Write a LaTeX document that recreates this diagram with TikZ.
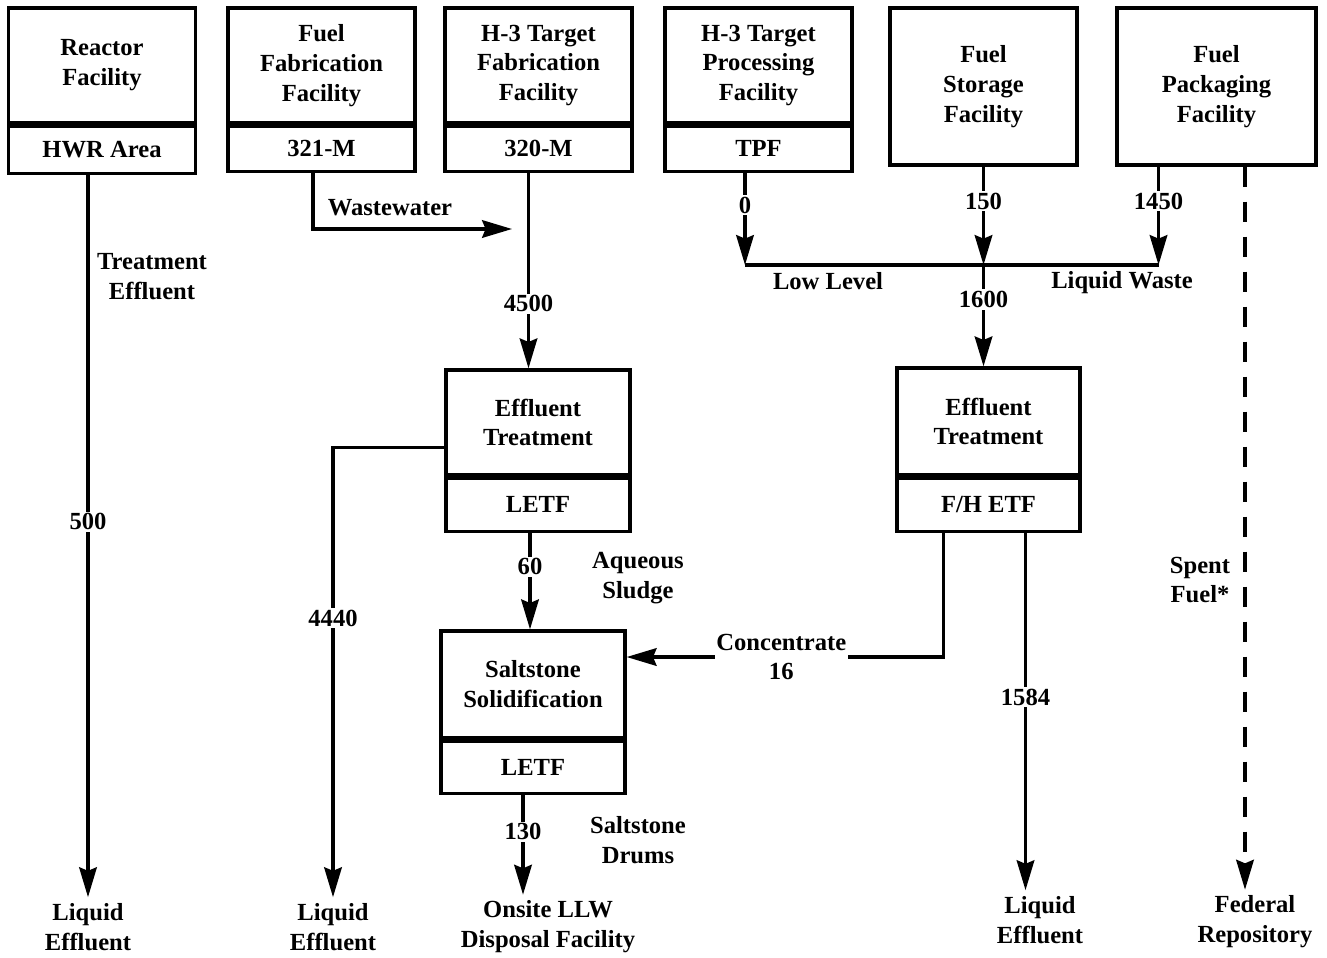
\documentclass[tikz,border=0pt]{standalone}
\usepackage{fontspec}
\setmainfont{Liberation Serif}
\usetikzlibrary{arrows.meta}

\tikzset{
  box/.style={draw, line width=1.9pt, minimum width=3.74cm, minimum height=2.3cm, align=center, inner sep=0pt},
  tag/.style={draw, line width=1.9pt, minimum width=3.74cm, minimum height=0.9cm, inner sep=0pt},
  pipe/.style={line width=1.9pt},
  flow/.style={line width=1.9pt, -{Stealth[length=17pt,width=10pt,inset=2pt]}},
  num/.style={fill=white, inner sep=1pt, align=center},
  lbl/.style={align=center}
}

\begin{document}
\begin{tikzpicture}[x=0.02cm, y=-0.02cm, font=\fontsize{14}{17}\selectfont\bfseries]
\useasboundingbox (0,0) rectangle (1327,957);
    % source facilities
    \node [box] (reactor) at (102,65.5) {Reactor\\Facility};
    \node [tag, minimum height=0.94cm, anchor=north] (hwr) at (reactor.south) {HWR Area};
    \node [box] (fuelfab) at (321.5,65.5) {Fuel\\Fabrication\\Facility};
    \node [tag, anchor=north] (m321) at (fuelfab.south) {321-M};
    \node [box] (targetfab) at (538.5,65.5) {H-3 Target\\Fabrication\\Facility};
    \node [tag, anchor=north] (m320) at (targetfab.south) {320-M};
    \node [box] (targetproc) at (758.5,65.5) {H-3 Target\\Processing\\Facility};
    \node [tag, anchor=north] (tpf) at (targetproc.south) {TPF};
    \node [box, minimum height=3.14cm] (storage) at (983.5,86.5) {Fuel\\Storage\\Facility};
    \node [box, minimum height=3.14cm, minimum width=3.98cm] (packaging) at (1216.5,86.5) {Fuel\\Packaging\\Facility};
    % treatment
    \node [box, minimum width=3.68cm, minimum height=2.1cm] (letf) at (538,422.5) {Effluent\\Treatment};
    \node [tag, minimum width=3.68cm, minimum height=1.06cm, anchor=north] (letftag) at (letf.south) {LETF};
    \node [box, minimum width=3.66cm, minimum height=2.14cm] (fhetf) at (988.5,421.5) {Effluent\\Treatment};
    \node [tag, minimum width=3.66cm, minimum height=1.06cm, anchor=north] (fhetftag) at (fhetf.south) {F/H ETF};
    \node [box, minimum width=3.68cm, minimum height=2.14cm] (saltstone) at (533,684.5) {Saltstone\\Solidification};
    \node [tag, minimum width=3.68cm, minimum height=1.04cm, anchor=north] (salttag) at (saltstone.south) {LETF};
    % destinations
    \node [lbl] (liquid1) at (88,927) {Liquid\\Effluent};
    \node [lbl] (liquid2) at (333,927) {Liquid\\Effluent};
    \node [lbl] (llw) at (548,927) {Onsite LLW\\Disposal Facility};
    \node [lbl] (liquid3) at (1040,920) {Liquid\\Effluent};
    \node [lbl] (repository) at (1255,922) {Federal\\Repository};
    \coordinate (wwend) at (512,229);
    \coordinate (lowlevel) at (983.5,265);
    % flows
    \draw [flow] (hwr.south -| liquid1.north) to node [num, pos=.48] {500} (liquid1.north);
    \node [lbl] (treat) at (152,277) {Treatment\\Effluent};
    \draw [flow] ([xshift=-0.17cm]m321.south) |- (wwend);
    \node [lbl] (ww) at (390,208) {Wastewater};
    \draw [flow] ([xshift=-0.2cm]m320.south) to node [num, pos=.67] {4500} ([xshift=-0.2cm]m320.south |- letf.north);
    \draw [flow] ([xshift=-0.27cm]tpf.south) to node [num, pos=.35] {0} ([xshift=-0.27cm]tpf.south |- lowlevel);
    \draw [flow] (storage.south) to node [num, pos=.35] {150} (lowlevel);
    \draw [flow] ([xshift=-1.16cm]packaging.south) to node [num, pos=.35] {1450} ([xshift=-1.16cm]packaging.south |- lowlevel);
    \draw [pipe] ([xshift=-0.27cm]tpf.south |- lowlevel) to ([xshift=-1.16cm]packaging.south |- lowlevel);
    \node [lbl] (ll) at (828,281) {Low Level};
    \node [lbl] (lw) at (1122,283) {Liquid Waste};
    \draw [flow] (lowlevel) to node [num, pos=.34] {1600} (lowlevel |- fhetf.north);
    \draw [flow] ([yshift=-0.5cm]letf.west) -| node [num, pos=.69] {4440} (liquid2.north);
    \draw [flow] ([xshift=-0.16cm]letftag.south) to node [num, pos=.35] {60} ([xshift=-0.16cm]letftag.south |- saltstone.north);
    \node [lbl] (sludge) at (638,578) {Aqueous\\Sludge};
    \draw [flow] ([xshift=-0.9cm]fhetftag.south) |- node [num, pos=.756] {Concentrate\\16} ([yshift=0.55cm]saltstone.east);
    \draw [flow] ([xshift=0.74cm]fhetftag.south) to node [num, pos=.46] {1584} ([xshift=0.74cm]fhetftag.south |- liquid3.north);
    \draw [flow] ([xshift=-0.2cm]salttag.south) to node [num, pos=.37] {130} ([xshift=-0.2cm]salttag.south |- llw.north);
    \node [lbl] (drums) at (638,840) {Saltstone\\Drums};
    \draw [flow, dash pattern=on 0.4cm off 0.3cm] ([xshift=0.57cm]packaging.south) to ([xshift=0.57cm]packaging.south |- repository.north);
    \node [lbl] (spent) at (1200,580) {Spent\\Fuel*};
\end{tikzpicture}
\end{document}
